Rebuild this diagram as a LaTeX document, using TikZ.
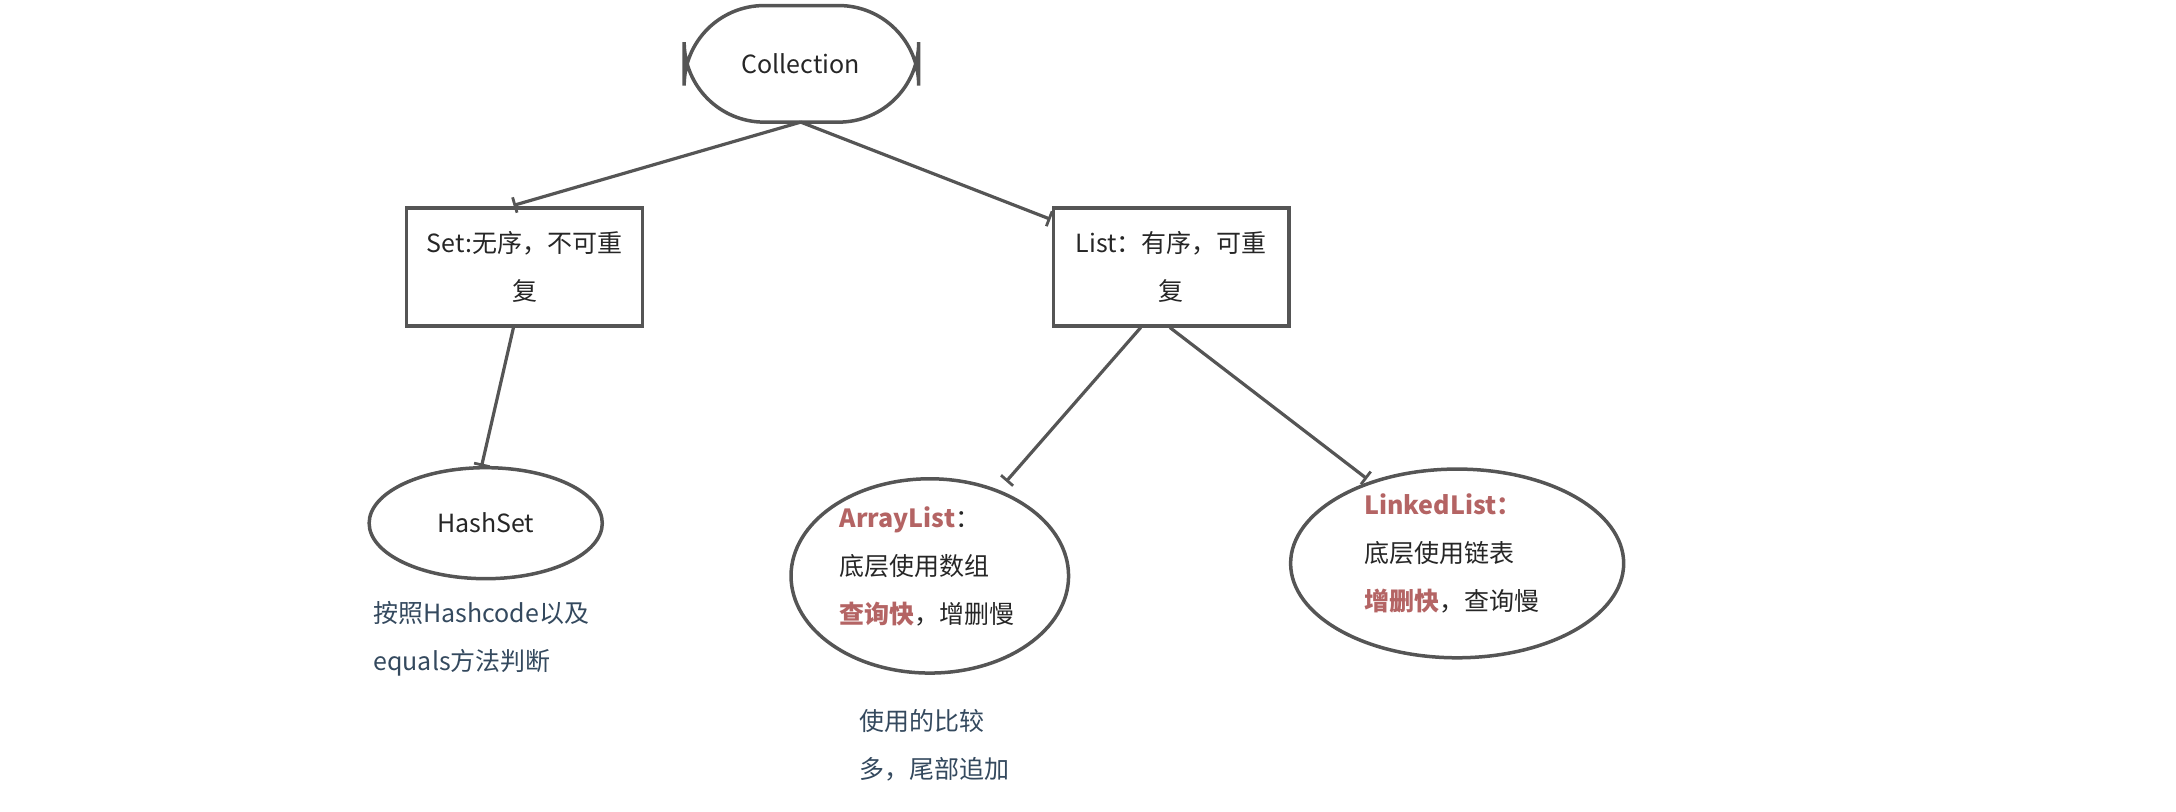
\documentclass[tikz,border=0pt]{standalone}
\usepackage{fontspec}
\setmainfont{Noto Sans CJK SC}
\usetikzlibrary{arrows.meta}
\definecolor{ln}{HTML}{555555}
\definecolor{rd}{HTML}{B46464}
\definecolor{nt}{HTML}{34495E}
\begin{document}
\begin{tikzpicture}[x=0.6939pt,y=-0.6939pt,
  every node/.style={font=\fontsize{12.5pt}{24pt}\selectfont,text=black!85},
  shp/.style={draw=ln,line width=1.75pt},
  con/.style={draw=ln,line width=1.6pt,-{Bar[width=8pt,line width=1.4pt]}},
  plain/.style={draw=ln,line width=1.6pt}]
\useasboundingbox (0,0) rectangle (1568,585);
\draw[shp,rounded corners=40] (493,4) rectangle (662,88);
\node (col) at (577,46) {Collection};
\coordinate (colb) at (577,88);
\draw[shp] (293,150) rectangle (463,235);
\node[align=center] (set) at (378,192) {Set:无序，不可重\\复};
\draw[shp] (759,150) rectangle (929,235);
\node[align=center] (list) at (844,192) {List：有序，可重\\复};
\draw[shp] (350,377) ellipse [x radius=84,y radius=40];
\node (hs) at (350,377) {HashSet};
\node[anchor=north west,align=left,text=nt] (hsn) at (264,428) {按照Hashcode以及\\equals方法判断};
\draw[shp] (670,415) ellipse [x radius=100,y radius=70];
\node[anchor=north west,align=left] (al) at (600,360) {\textcolor{rd}{\textbf{ArrayList}}：\\底层使用数组\\\textcolor{rd}{\textbf{查询快}}，增删慢};
\draw[shp] (1050,406) ellipse [x radius=120,y radius=68];
\node[anchor=north west,align=left] (ll) at (978,351) {\textcolor{rd}{\textbf{LinkedList：}}\\底层使用链表\\\textcolor{rd}{\textbf{增删快}}，查询慢};
\node[anchor=north west,align=left,text=nt] (aln) at (614,506) {使用的比较\\多，尾部追加};
\coordinate (s1) at (370,148); \coordinate (l1) at (757,158);
\coordinate (s2) at (370,236); \coordinate (h1) at (347,336);
\coordinate (l2) at (822,236); \coordinate (a1) at (725,347);
\coordinate (l3) at (843,236); \coordinate (k1) at (985,345);
\draw[con] (colb) -- (s1);
\draw[con] (colb) -- (l1);
\draw[con] (s2) -- (h1);
\draw[con] (l2) -- (a1);
\draw[con] (l3) -- (k1);
\end{tikzpicture}
\end{document}
